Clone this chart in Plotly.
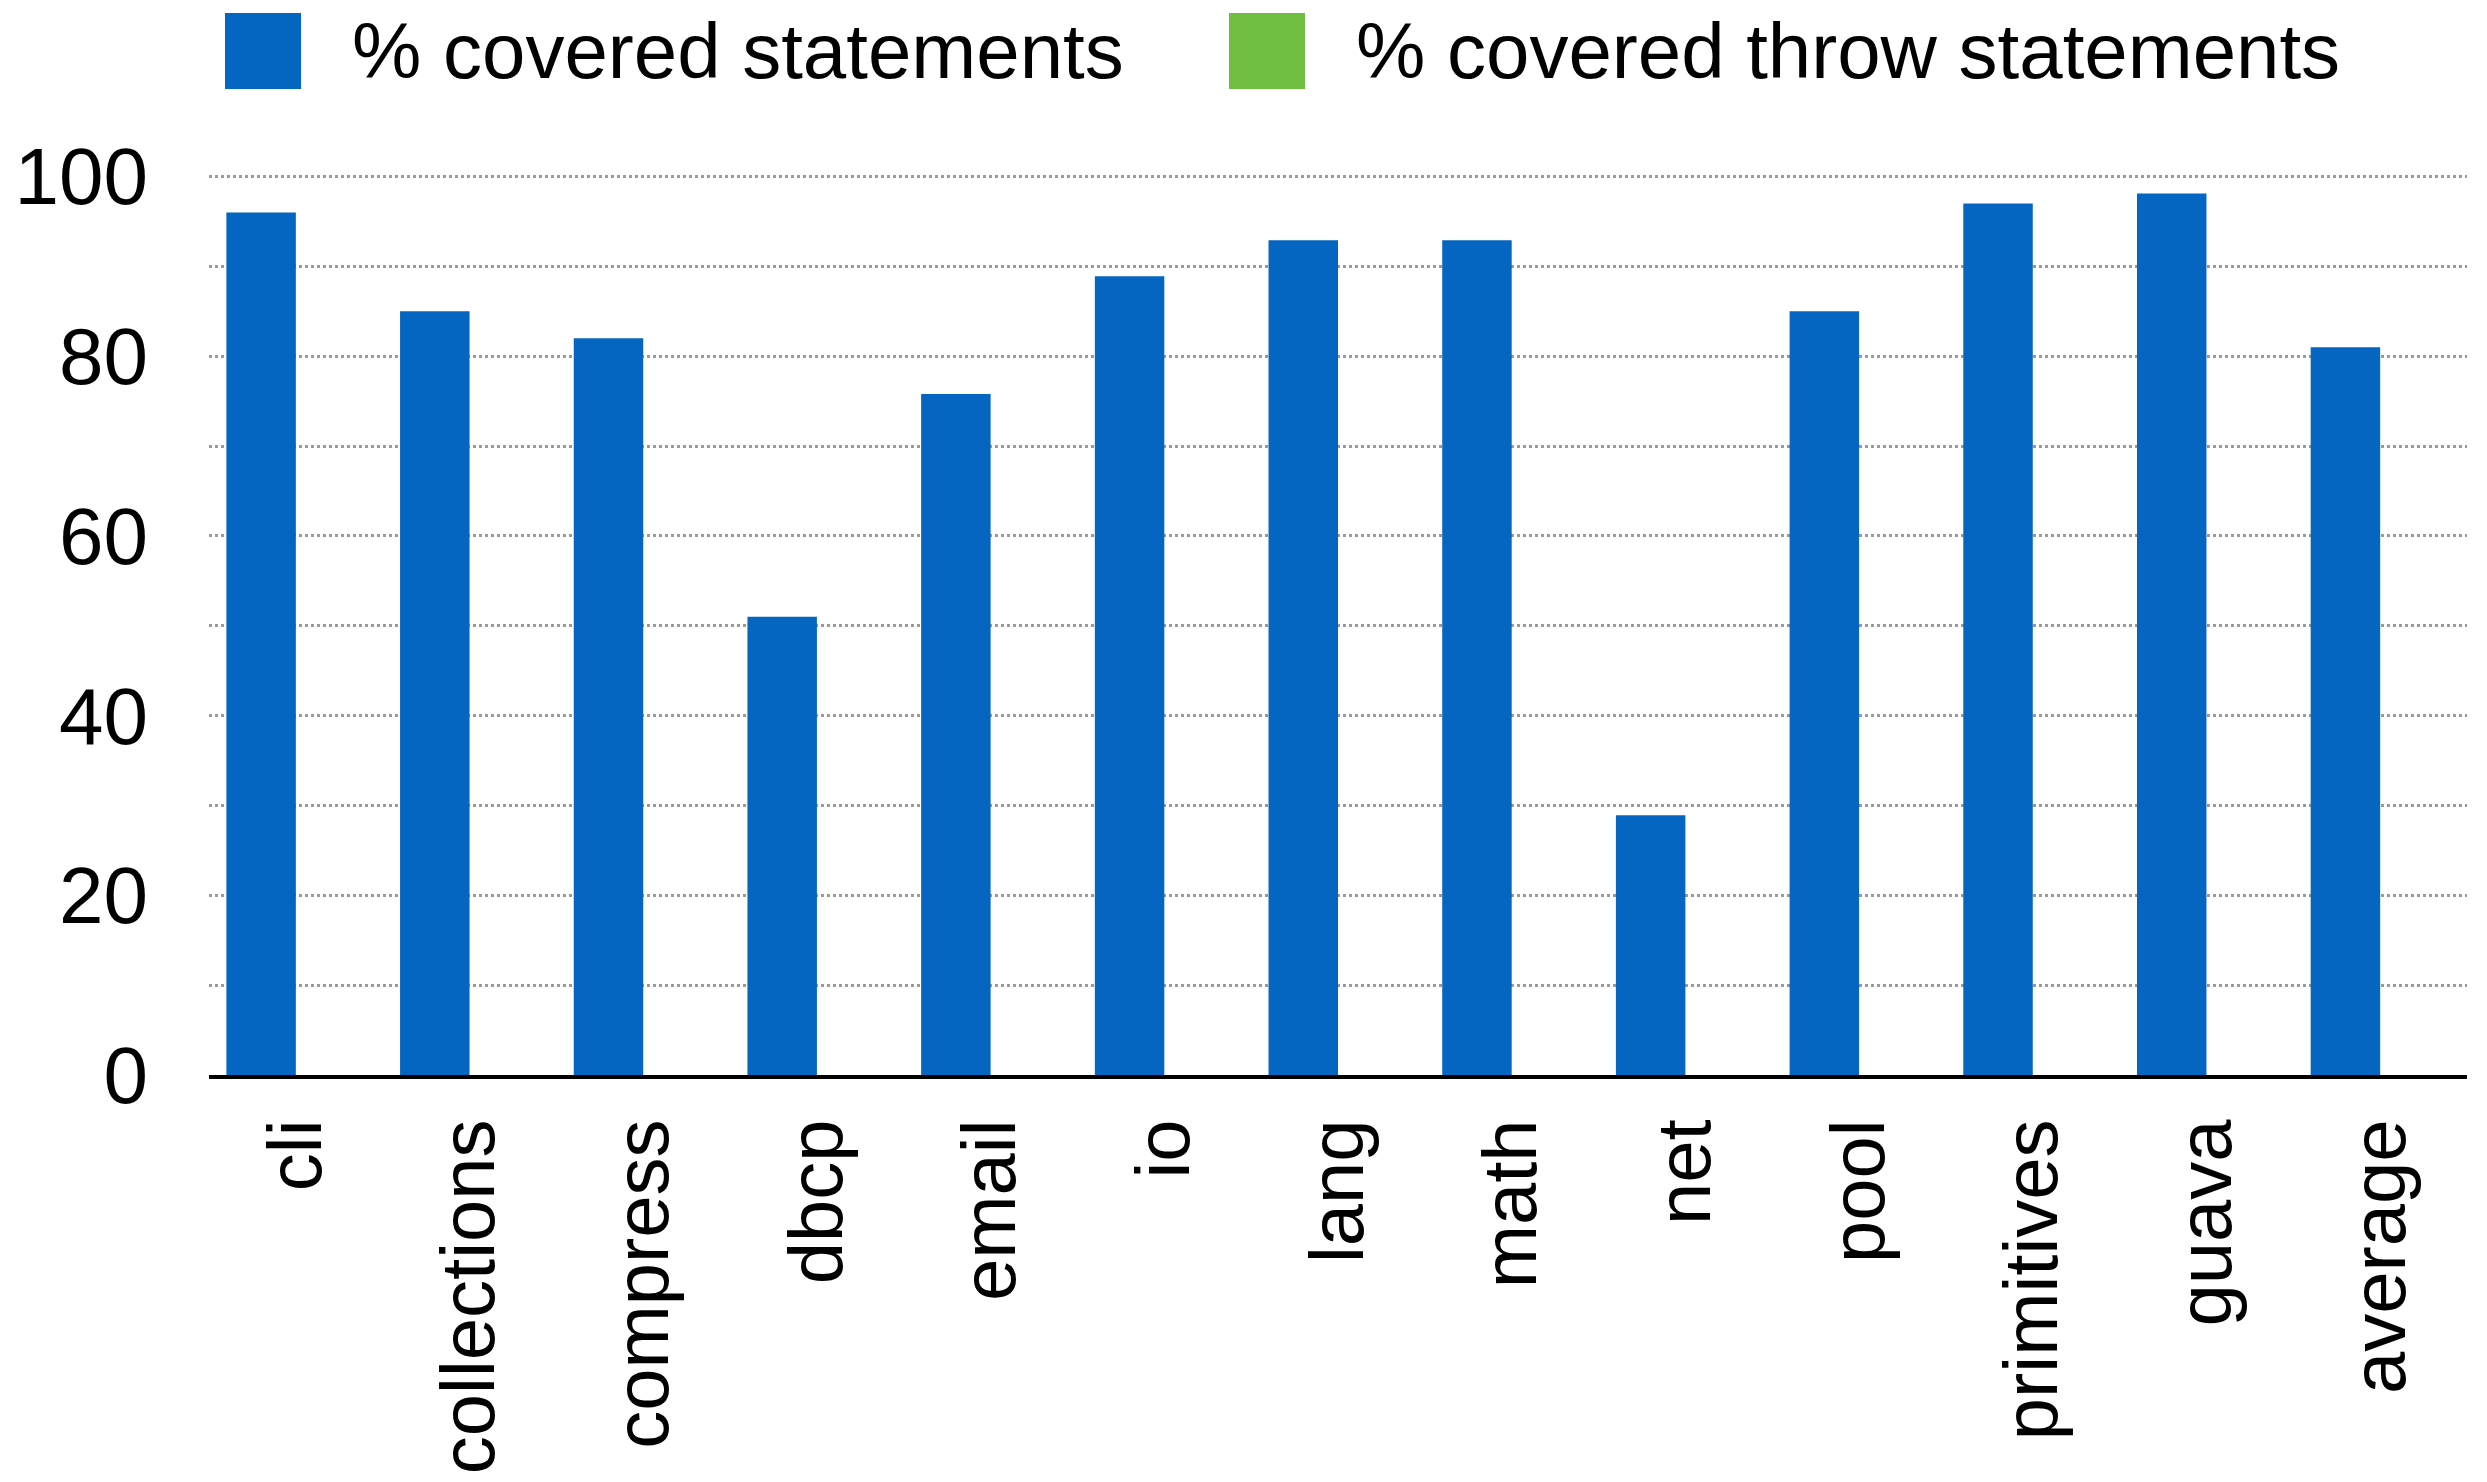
import plotly.graph_objects as go

categories = ["cli", "collections", "compress", "dbcp", "email", "io", "lang",
              "math", "net", "pool", "primitives", "guava", "average"]
covered_statements = [96.0, 85.0, 82.0, 51.0, 75.8, 88.9, 92.9, 92.9, 28.9, 85.0, 97.0, 98.1, 81.0]
covered_throw_statements = [None] * len(categories)
series_names = ["% covered statements", "% covered throw statements"]
series_colors = ["#0466C0", "#70BF41"]
y_ticks = [0, 20, 40, 60, 80, 100]

W, H = 2487, 1482
L, R, T, B = 209, 20, 172, 407
FONT = "Liberation Sans, Arial, sans-serif"

fig = go.Figure()
fig.add_trace(go.Bar(x=categories, y=covered_statements, name=series_names[0],
                     marker=dict(color=series_colors[0], line=dict(width=0))))
fig.add_trace(go.Bar(x=categories, y=covered_throw_statements, name=series_names[1],
                     marker=dict(color=series_colors[1], line=dict(width=0))))

pw = W - L - R
ph = H - T - B


def px_x(p):
    return (p - L) / pw


def px_y(p):
    return (H - B - p) / ph


# manual legend (large swatches)
shapes = []
annotations = []
legend_items = [(225, 350), (1229, 1354)]
for (sx, tx), name, col in zip(legend_items, series_names, series_colors):
    shapes.append(dict(type="rect", xref="paper", yref="paper",
                       x0=px_x(sx), x1=px_x(sx + 76), y0=px_y(89), y1=px_y(13),
                       fillcolor=col, line=dict(width=0)))
    annotations.append(dict(xref="paper", yref="paper", x=px_x(tx), y=px_y(51),
                            xanchor="left", yanchor="middle", text=name, showarrow=False,
                            font=dict(family=FONT, size=78, color="black")))

fig.update_layout(
    width=W, height=H,
    margin=dict(l=L, r=R, t=T, b=B, pad=0),
    barmode="group", bargap=0.2, bargroupgap=0,
    plot_bgcolor="white", paper_bgcolor="white",
    showlegend=False,
    font=dict(family=FONT, size=76, color="black"),
    shapes=shapes, annotations=annotations,
    xaxis=dict(tickangle=-90, showline=True, linecolor="black", linewidth=4,
               showgrid=False, ticks="", ticklabelstandoff=10, automargin=False,
               tickfont=dict(family=FONT, size=76, color="black")),
    yaxis=dict(range=[0, 100.5], tickvals=y_ticks, showline=False, zeroline=False,
               showgrid=True, gridcolor="#9a9a9a", gridwidth=3, griddash="dot",
               minor=dict(dtick=10, tick0=0, showgrid=True, gridcolor="#9a9a9a",
                          gridwidth=3, griddash="dot"),
               ticks="", ticklabelstandoff=60, automargin=False,
               tickfont=dict(family=FONT, size=80, color="black")),
)

fig.write_html("out.html", config={"displayModeBar": False},
               post_script="document.body.style.margin='0';document.body.style.overflow='hidden';")
